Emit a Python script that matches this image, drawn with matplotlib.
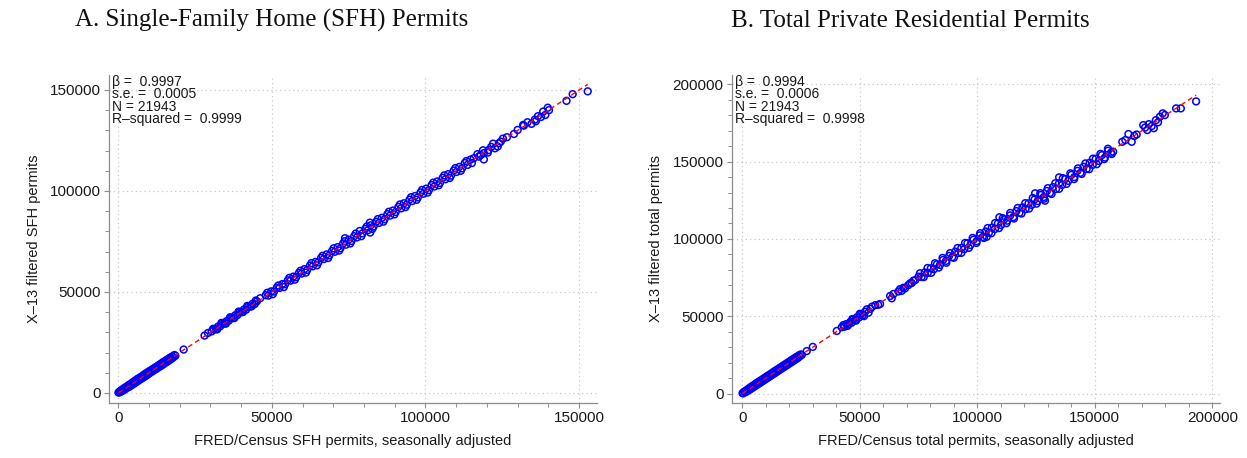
import matplotlib
matplotlib.use("Agg")
import matplotlib.pyplot as plt
import numpy as np
from matplotlib.ticker import MultipleLocator

plt.rcParams['font.family'] = ['Liberation Sans', 'DejaVu Sans']

# values in thousands of permits: (FRED/Census SA, X-13 filtered)
sfh_low = [(0.1,0.2),(0.3,0.5),(0.6,0.4),(0.8,1.2),(1.1,0.9),(1.4,1.8),(1.7,1.3),(2.0,2.5),(2.3,1.9),(2.6,3.0),
           (2.9,2.6),(3.2,3.7),(3.5,3.0),(3.8,4.3),(4.1,3.6),(4.4,4.9),(4.7,4.2),(5.0,5.6),(5.3,4.8),(5.6,6.2),
           (5.9,5.4),(6.2,6.9),(6.5,6.0),(6.8,7.4),(7.1,6.7),(7.4,8.0),(7.7,7.2),(8.0,8.6),(8.3,7.8),(8.6,9.3),
           (8.9,8.4),(9.2,9.9),(9.5,9.0),(9.8,10.5),(10.1,9.7),(10.4,11.0),(10.7,10.3),(11.0,11.6),(11.3,10.9),
           (11.6,12.2),(11.9,11.5),(12.2,12.8),(12.5,12.0),(12.8,13.4),(13.1,12.7),(13.4,14.0),(13.7,13.2),
           (14.0,14.6),(14.3,13.8),(14.6,15.3),(14.9,14.4),(15.2,15.8),(15.5,15.1),(15.8,16.4),(16.1,15.6),
           (16.4,17.0),(16.7,16.3),(17.0,17.6),(17.3,16.9),(17.6,18.1),(17.9,17.6),(18.3,18.8),(18.6,18.4)]
sfh_mid = [(21.3,21.5),(28.1,28.4),(29.2,29.7),(30.4,30.5),(31.1,31.4),(31.8,31.6),(32.5,32.9),(33.2,33.0),
           (33.9,34.2),(34.6,34.4),(35.3,35.6),(36.0,35.8),(36.7,37.0),(37.4,37.1),(38.1,38.5),(38.8,38.6),
           (39.5,39.9),(40.2,40.0),(40.9,41.3),(41.6,41.2),(42.3,42.7),(43.0,42.8),(43.7,44.1),(44.4,44.0),
           (45.1,45.3),(46.2,46.9),(30.9,31.8),(32.2,31.5),(33.6,34.7),(35.0,34.3),(36.4,37.5),(37.8,37.1),
           (39.2,40.3),(40.6,40.1),(42.0,43.1),(43.4,42.9),(44.8,45.8)]
sfh_upper = [(48.0,48.4),(48.9,48.2),(49.8,50.3),(50.7,50.2),(51.6,52.1),(52.5,52.0),(53.4,53.9),(54.3,53.8),
             (55.2,55.8),(56.1,55.6),(57.0,57.6),(57.9,57.3),(58.8,59.4),(59.7,59.1),(60.6,61.3),(61.5,60.9),
             (62.4,63.1),(63.3,62.7),(64.2,64.9),(65.1,64.6),(66.0,66.8),(66.9,66.3),(67.8,68.6),(68.7,68.1),
             (69.6,70.3),(70.5,69.9),(71.4,72.2),(72.3,71.6),(73.2,74.0),(73.8,76.6),(74.1,73.4),(75.0,75.9),
             (75.9,75.2),(76.8,77.6),(77.7,77.0),(78.6,80.2),(79.5,79.0),(80.4,81.2),(81.3,80.6),(81.9,84.3),
             (82.0,79.4),(82.2,83.0),(83.1,82.4),(84.0,84.8),(84.9,84.2),(85.8,86.7),(86.7,86.0),(87.6,88.5),
             (88.5,87.8),(89.4,90.3),(90.3,89.6),(91.2,92.1),(92.1,91.4),(93.0,93.9),(93.9,93.2),(94.8,95.7),
             (95.7,95.0),(96.6,97.5),(97.5,96.8),(98.4,99.3),(99.3,98.6),(100.2,101.1),(101.1,100.4),(102.0,102.9),
             (102.9,102.2),(103.8,104.7),(104.7,104.0),(105.6,106.5),(106.5,105.8),(107.4,108.3),(108.3,107.6),
             (109.2,110.1),(110.1,109.4),(111.0,111.9),(111.9,111.2),(112.8,113.8),(113.7,112.9),(114.6,115.5),
             (115.7,116.2),(117.4,117.0),(118.0,117.8),(119.0,118.7),(119.0,115.6),(120.5,120.2),(121.4,121.8),
             (122.6,121.1),(123.9,123.6),(124.5,124.4),(126.5,126.6)]
sfh_fill = [(48.5,49.6),(50.3,48.9),(52.1,53.2),(53.9,52.4),(55.7,57.0),(57.5,56.1),(59.3,60.5),(61.1,59.6),
            (62.9,64.3),(64.7,63.2),(66.5,67.9),(68.3,66.8),(70.1,71.6),(71.9,70.5),(73.7,75.1),(75.5,74.0),
            (77.3,78.9),(79.1,77.6),(80.9,82.4),(82.7,81.2),(84.5,86.1),(86.3,84.8),(88.1,89.7),(89.9,88.4),
            (91.7,93.3),(93.5,92.0),(95.3,96.9),(97.1,95.6),(98.9,100.5),(100.7,99.2),(102.5,104.1),(104.3,102.8),
            (106.1,107.7),(107.9,106.4),(109.7,111.3),(111.5,110.0),(113.3,114.8),(115.1,113.8),(116.9,118.2),
            (118.7,120.1),(120.3,119.0),(122.0,123.4),(123.5,122.0),(125.2,125.9)]
sfh_high = [(128.8,128.2),(130.0,130.2),(131.8,132.7),(132.0,132.3),(133.2,134.0),(134.5,133.2),(135.6,135.3),
            (135.9,134.5),(136.6,137.0),(137.6,136.6),(138.3,139.3),(139.0,137.6),(139.8,141.2),(140.2,140.0),
            (145.9,144.6),(147.9,147.9),(152.8,149.3)]

tot_low = [(0.1,0.3),(0.4,0.2),(0.8,1.3),(1.2,0.8),(1.6,2.0),(2.0,1.5),(2.4,2.9),(2.8,2.2),(3.2,3.8),(3.6,3.0),
           (4.0,4.6),(4.4,3.8),(4.8,5.4),(5.2,4.6),(5.6,6.3),(6.0,5.4),(6.4,7.1),(6.8,6.2),(7.2,7.9),(7.6,7.0),
           (8.0,8.7),(8.4,7.8),(8.8,9.5),(9.2,8.6),(9.6,10.3),(10.0,9.4),(10.4,11.1),(10.8,10.2),(11.2,11.9),
           (11.6,11.0),(12.0,12.7),(12.4,11.8),(12.8,13.5),(13.2,12.6),(13.6,14.3),(14.0,13.4),(14.4,15.1),
           (14.8,14.2),(15.2,15.9),(15.6,15.0),(16.0,16.7),(16.4,15.8),(16.8,17.5),(17.2,16.6),(17.6,18.3),
           (18.0,17.4),(18.4,19.1),(18.8,18.2),(19.2,19.9),(19.6,19.0),(20.0,20.7),(20.4,19.8),(20.8,21.5),
           (21.2,20.6),(21.6,22.3),(22.0,21.4),(22.4,23.1),(22.8,22.2),(23.2,23.8),(23.6,23.0),(24.0,24.6),
           (24.4,24.0),(24.8,25.3),(25.3,25.0)]
tot_mid = [(27.4,27.5),(30.0,30.2),(40.2,40.5),(42.3,42.9),(43.4,43.2),(44.2,44.9),(45.1,44.6),(45.9,46.3),
           (46.5,45.8),(47.2,47.9),(48.0,47.5),(48.8,49.4),(49.6,49.1),(50.4,51.0),(51.2,50.6),(52.2,52.9),
           (53.7,52.3),(54.5,54.8),(55.2,56.2),(56.6,57.2),(57.8,57.4),(58.6,57.9),(62.9,63.1),(63.6,61.6),
           (64.3,64.4),(66.4,66.0),(67.1,67.5),(67.8,66.4),(68.5,68.4),(69.2,68.0),(70.6,70.1),(71.4,71.3),
           (72.1,71.5),(72.8,73.0),(73.6,73.4),(43.0,44.3),(44.8,43.8),(46.8,48.2),(48.4,47.2),(50.0,51.6),
           (51.8,50.1),(53.0,54.5)]
tot_upper = [(75.0,75.6),(76.3,75.4),(77.6,78.3),(78.9,78.0),(80.2,81.0),(81.5,80.4),(82.8,83.6),(84.1,83.2),
             (85.4,86.4),(86.7,85.8),(88.0,89.0),(89.3,88.2),(90.6,91.8),(91.9,90.9),(93.2,94.2),(94.5,93.4),
             (95.8,97.2),(97.1,96.1),(98.4,99.5),(99.7,98.5),(101.0,102.3),(102.3,101.2),(103.6,104.8),
             (104.0,101.4),(104.9,104.0),(106.2,107.3),(107.5,106.4),(108.8,110.1),(109.4,114.0),(110.1,109.0),
             (111.4,112.6),(112.7,111.8),(114.0,115.2),(115.3,114.1),(116.6,118.0),(117.9,116.8),(119.2,120.4),
             (120.5,119.3),(121.8,123.0),(123.1,122.0),(124.4,125.6),(124.6,129.5),(125.7,124.5),(127.0,128.4),
             (128.3,127.1),(128.8,124.7),(129.6,131.0),(130.9,129.7),(132.2,133.5),(133.5,132.3),(134.8,139.8),
             (134.8,136.0),(136.1,134.9),(137.4,138.7),(138.7,137.5),(140.0,141.4),(141.3,140.0),(142.6,144.0),
             (143.9,142.7),(145.2,146.6),(146.5,145.2),(147.8,149.2),(149.1,147.9),(150.4,151.8),(151.7,150.4),
             (153.0,154.2),(154.3,152.6),(155.6,157.0),(156.9,155.8),(157.8,156.4)]
tot_fill = [(75.6,77.8),(77.2,75.3),(78.8,81.2),(80.4,78.1),(82.0,84.3),(83.6,81.5),(85.2,87.7),(86.8,84.6),
            (88.4,90.8),(90.0,87.8),(91.6,94.1),(93.2,91.0),(94.8,97.4),(96.4,94.2),(98.0,100.6),(99.6,97.4),
            (101.2,103.7),(102.8,100.6),(104.4,107.0),(106.0,103.7),(107.6,110.3),(109.2,107.0),(110.8,113.4),
            (112.4,110.2),(114.0,116.8),(115.6,113.2),(117.2,120.0),(118.8,116.4),(120.4,123.1),(122.0,119.6),
            (123.6,126.5),(125.2,122.8),(126.8,129.6),(128.4,126.0),(130.0,132.8),(131.6,129.1),(133.2,136.0),
            (134.8,132.4),(136.4,139.3),(138.0,135.6),(139.6,142.4),(141.2,138.7),(142.8,145.6),(144.4,142.0),
            (146.0,148.8),(147.6,145.1),(149.2,151.9),(150.8,148.3),(152.4,155.0),(154.0,151.6),(155.6,158.3),
            (157.2,154.9)]
tot_high = [(161.7,162.8),(163.0,163.9),(164.3,167.8),(165.7,162.8),(166.8,166.6),(167.8,167.5),(170.6,173.6),
            (171.4,172.0),(172.3,170.4),(173.0,174.2),(174.2,173.0),(175.1,171.6),(176.0,176.8),(176.9,175.4),
            (177.7,179.0),(178.9,181.2),(179.8,180.1),(184.6,184.4),(186.6,184.4),(193.1,188.9)]

titles = ['A. Single-Family Home (SFH) Permits', 'B. Total Private Residential Permits']
xlabels = ['FRED/Census SFH permits, seasonally adjusted', 'FRED/Census total permits, seasonally adjusted']
ylabels = ['X\u201313 filtered SFH permits', 'X\u201313 filtered total permits']
betas = [0.9997, 0.9994]
stats = [['\u03b2 =  0.9997', 's.e. =  0.0005', 'N = 21943', 'R\u2013squared =  0.9999'],
         ['\u03b2 =  0.9994', 's.e. =  0.0006', 'N = 21943', 'R\u2013squared =  0.9998']]
major_ticks = [[0, 50000, 100000, 150000], [0, 50000, 100000, 150000, 200000]]

panels = [np.array(sfh_low + sfh_mid + sfh_upper + sfh_fill + sfh_high) * 1000,
          np.array(tot_low + tot_mid + tot_upper + tot_fill + tot_high) * 1000]

fig = plt.figure(figsize=(12.47, 4.58), dpi=100)
axes = [fig.add_axes([0.0874, 0.1201, 0.3913, 0.7162]),
        fig.add_axes([0.5868, 0.1201, 0.3916, 0.7162])]
limits = [((-3000, 155800), (-4950, 157400)), ((-4500, 203300), (-6080, 206000))]
title_x = [0.218, 0.73]

for i, ax in enumerate(axes):
    pts = panels[i]
    ax.scatter(pts[:, 0], pts[:, 1], s=24, facecolors='none', edgecolors='#0000ff',
               linewidths=1.1, zorder=2)
    xfit = np.array([pts[:, 0].min(), pts[:, 0].max()])
    ax.plot(xfit, betas[i] * xfit, color='red', linestyle=(0, (3.5, 2.5)), linewidth=1.0, zorder=3)
    ax.set_xlim(limits[i][0])
    ax.set_ylim(limits[i][1])
    ax.set_xticks(major_ticks[i])
    ax.set_yticks(major_ticks[i])
    ax.xaxis.set_minor_locator(MultipleLocator(10000))
    ax.yaxis.set_minor_locator(MultipleLocator(10000))
    ax.grid(True, which='major', linestyle=(0, (1, 2.5)), color='#c8c8c8', linewidth=0.9)
    ax.set_axisbelow(True)
    for s in ['top', 'right']:
        ax.spines[s].set_visible(False)
    for s in ['left', 'bottom']:
        ax.spines[s].set_color('#8c8c8c')
        ax.spines[s].set_linewidth(0.9)
    ax.tick_params(which='major', length=3.5, width=0.8, color='#8c8c8c', labelsize=11,
                   labelcolor='#1a1a1a', pad=2.5)
    ax.tick_params(which='minor', length=3, width=0.7, color='#8c8c8c')
    ax.set_xlabel(xlabels[i], fontsize=10.5, color='#1a1a1a')
    ax.set_ylabel(ylabels[i], fontsize=10.5, color='#1a1a1a')
    ax.xaxis.set_label_coords(0.5, -0.095)
    ax.yaxis.set_label_coords(-0.14, 0.5)
    ax.text(0.007, 1.0, '\n'.join(stats[i]), transform=ax.transAxes, ha='left', va='top',
            fontsize=10, linespacing=0.85, color='#1a1a1a')
    fig.text(title_x[i], 0.955, titles[i], ha='center', va='center', fontsize=18,
             family=['Liberation Serif', 'DejaVu Serif'], color='#111111')

fig.savefig('out.png', dpi=100)
